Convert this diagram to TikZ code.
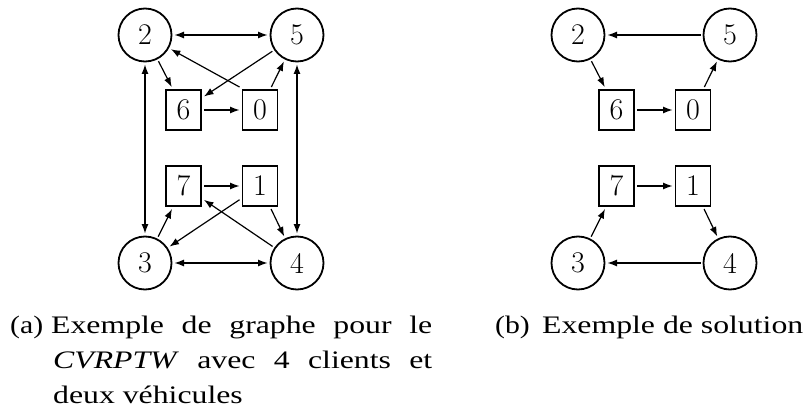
\documentclass[tikz,border=0pt]{standalone}
\usepackage{fontspec}
\usepackage{graphicx}
\newfontfamily\capfont{Liberation Serif}
\usetikzlibrary{arrows.meta}
\begin{document}
\begin{tikzpicture}[x=1pt,y=-1pt,
  cnode/.style={circle,draw,line width=1.8pt,minimum size=53pt,inner sep=0pt,outer sep=3pt,font=\fontsize{30}{30}\selectfont},
  bnode/.style={rectangle,draw,line width=1.8pt,minimum width=35pt,minimum height=40pt,inner sep=0pt,outer sep=3pt,font=\fontsize{30}{30}\selectfont},
  arrowline/.style={line width=1.2pt,-{Latex[length=9.5pt,width=7pt]}},
  biline/.style={line width=1.2pt,{Latex[length=9.5pt,width=7pt]}-{Latex[length=9.5pt,width=7pt]}},
  capt/.style={anchor=base west,inner sep=0pt,font=\capfont\fontsize{25.2}{30}\selectfont}]
\useasboundingbox (0,0) rectangle (806,417);
% ---------- (a) ----------
\node[cnode] (a2) at (145,35) {2};
\node[cnode] (a5) at (297,35) {5};
\node[bnode] (a6) at (183.5,110) {6};
\node[bnode] (a0) at (260,110) {0};
\node[bnode] (a7) at (183.5,186) {7};
\node[bnode] (a1) at (260,186) {1};
\node[cnode] (a3) at (145,263) {3};
\node[cnode] (a4) at (297,263) {4};
\draw[biline] (a2) -- (a5);
\draw[biline] (a3) -- (a4);
\draw[biline] (a2) -- (a3);
\draw[biline] (a5) -- (a4);
\draw[arrowline] (a2) -- (a6);
\draw[arrowline] (a6) -- (a0);
\draw[arrowline] (a0.north west) -- (a2);
\draw[arrowline] (a5) -- (a6);
\draw[arrowline] (a0) -- (a5);
\draw[arrowline] (a7) -- (a1);
\draw[arrowline] (a3) -- (a7);
\draw[arrowline] (a1) -- (a3);
\draw[arrowline] (a4) -- (a7);
\draw[arrowline] (a1) -- (a4);
% ---------- (b) ----------
\node[cnode] (b2) at (578,35) {2};
\node[cnode] (b5) at (730,35) {5};
\node[bnode] (b6) at (616.5,110) {6};
\node[bnode] (b0) at (693,110) {0};
\node[bnode] (b7) at (616.5,186) {7};
\node[bnode] (b1) at (693,186) {1};
\node[cnode] (b3) at (578,263) {3};
\node[cnode] (b4) at (730,263) {4};
\draw[arrowline] (b5) -- (b2);
\draw[arrowline] (b2) -- (b6);
\draw[arrowline] (b6) -- (b0);
\draw[arrowline] (b0) -- (b5);
\draw[arrowline] (b3) -- (b7);
\draw[arrowline] (b7) -- (b1);
\draw[arrowline] (b1) -- (b4);
\draw[arrowline] (b4) -- (b3);
% ---------- captions ----------
\node[capt] (ca) at (10,333) {\scalebox{1.18}[1]{(a)}};
\node[capt] (ca1) at (51,333) {\scalebox{1.26}[1]{\hbox to 302.4pt{Exemple\hfill de\hfill graphe\hfill pour\hfill le}}};
\node[capt] (ca2) at (53,368) {\scalebox{1.26}[1]{\hbox to 300.8pt{\textit{CVRPTW}\hfill avec\hfill 4\hfill clients\hfill et}}};
\node[capt] (ca3) at (53,403) {\scalebox{1.26}[1]{deux véhicules}};
\node[capt] (cb) at (495,333) {\scalebox{1.18}[1]{(b)}};
\node[capt] (cb1) at (542,333) {\scalebox{1.26}[1]{Exemple de solution}};
\end{tikzpicture}
\end{document}
